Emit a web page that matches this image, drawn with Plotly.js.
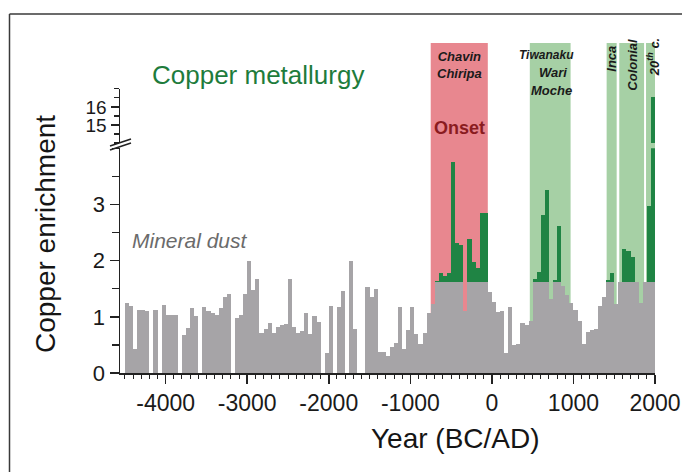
<!DOCTYPE html>
<html>
<head>
<meta charset="utf-8">
<script src="https://cdn.plot.ly/plotly-3.0.1.min.js"></script>
<style>
html,body{margin:0;padding:0;background:#fff;}
#chart{width:682px;height:472px;}
</style>
</head>
<body>
<div id="chart"></div>
<script>
// ---- data (50-year bins, centre year) ----
var years = [
 -4475,-4425,-4375,-4325,-4275,-4225,-4175,-4125,-4075,-4025,
 -3975,-3925,-3875,-3825,-3775,-3725,-3675,-3625,-3575,-3525,
 -3475,-3425,-3375,-3325,-3275,-3225,-3175,-3125,-3075,-3025,
 -2975,-2925,-2875,-2825,-2775,-2725,-2675,-2625,-2575,-2525,
 -2475,-2425,-2375,-2325,-2275,-2225,-2175,-2125,-2075,-2025,
 -1975,-1925,-1875,-1825,-1775,-1725,-1675,-1625,-1575,-1525,
 -1475,-1425,-1375,-1325,-1275,-1225,-1175,-1125,-1075,-1025,
 -975,-925,-875,-825,-775,-725,-675,-625,-575,-525,
 -475,-425,-375,-325,-275,-225,-175,-125,-75,-25,
 25,75,125,175,225,275,325,375,425,475,
 525,575,625,675,725,775,825,875,925,975,
 1025,1075,1125,1175,1225,1275,1325,1375,1425,1475,
 1525,1575,1625,1675,1725,1775,1825,1875,1925,1975
];
var mineralDust = [
 1.25,1.19,0.42,1.13,1.13,1.10,0,1.12,0,1.21,
 1.03,1.03,1.04,0,0.67,0.80,1.15,1.01,0,1.17,
 1.10,1.07,1.03,1.16,1.35,1.41,0,0.98,1.03,1.41,
 2.00,1.47,1.67,0.72,0.79,0.89,0.72,0.82,0.85,0.88,
 1.68,0.82,0.72,0.74,1.06,0.69,1.01,0.90,0,0.36,
 1.20,0,1.17,1.46,0,2.00,0.79,0,0,1.53,
 1.36,1.49,0.37,0.37,0.31,0.47,0.54,1.17,0.43,0.77,
 1.17,0.70,0.52,0.71,1.06,1.22,1.62,1.62,1.62,1.62,
 1.62,1.62,1.62,1.10,1.62,1.62,1.62,1.62,1.62,1.44,
 1.26,1.08,1.10,0.36,1.18,0.49,0.52,0.89,0.86,0.93,
 1.62,1.62,1.62,1.62,1.32,1.62,1.62,1.55,1.38,1.25,
 1.12,0.92,0.52,0.73,0.76,0.79,1.20,1.35,1.62,1.62,
 1.23,1.62,1.62,1.62,1.62,1.62,1.24,1.62,1.62,1.62
];
var copperYears = [-675,-625,-575,-525,-475,-425,-375,-275,-225,-175,-125,-75,
                   525,575,625,675,775,825,
                   1425,1475,1625,1675,1725,1925,1975];
var copperValues = [1.64,1.78,1.73,1.78,3.75,2.31,2.27,2.39,1.98,1.87,2.85,2.85,
                    1.68,1.79,2.82,3.25,1.65,2.62,
                    1.65,1.78,2.21,2.18,2.07,2.97,16.55];
var periodStart = [-750, 465, 1407, 1562, 1890];
var periodEnd   = [-50, 965, 1530, 1866, 2040];
var periodColor = ['#e8878f', '#a6d0a5', '#a6d0a5', '#a6d0a5', '#a6d0a5'];
var xTickVals = [-4000,-3000,-2000,-1000,0,1000,2000];
var xTickText = ['-4000','-3000','-2000','-1000','0','1000','2000'];
var yLowTicks = [0,1,2,3];
var yHighTicks = [15,16];

// ---- pixel helpers for decorations (paper coords) ----
var ML = 120, MR = 27, MT = 43, MB = 99, W = 682, H = 472;
var PW = W - ML - MR, PH = H - MT - MB;
function px(x){ return (x - ML) / PW; }
function py(y){ return (H - MB - y) / PH; }

var FONT = 'Liberation Sans, Arial, sans-serif';
var GREEN = '#1f8444';

var traces = [
  {type:'bar', x:copperYears, y:copperValues, width:50, xaxis:'x', yaxis:'y',
   marker:{color:GREEN, line:{width:0}}, hoverinfo:'skip', showlegend:false},
  {type:'bar', x:years, y:mineralDust, width:50, xaxis:'x', yaxis:'y',
   marker:{color:'#a6a4a7', line:{width:0}}, hoverinfo:'skip', showlegend:false},
  {type:'bar', x:copperYears, y:copperValues, width:50, xaxis:'x', yaxis:'y2',
   marker:{color:GREEN, line:{width:0}}, hoverinfo:'skip', showlegend:false}
];

var shapes = [];
for (var i = 0; i < periodStart.length; i++) {
  shapes.push({type:'rect', xref:'x', yref:'paper', x0:periodStart[i], x1:periodEnd[i],
    y0:0, y1:1, fillcolor:periodColor[i], line:{width:0}, layer:'below'});
}
// frame
shapes.push({type:'line', xref:'paper', yref:'paper', x0:px(9.5), x1:px(9.5), y0:py(14), y1:py(480),
  line:{color:'#3a3a3a', width:1.5}});
shapes.push({type:'line', xref:'paper', yref:'paper', x0:px(9.5), x1:px(690), y0:py(14), y1:py(14),
  line:{color:'#3a3a3a', width:1.5}});
// axis break marks
shapes.push({type:'line', xref:'paper', yref:'paper', x0:px(110), x1:px(131), y0:py(150), y1:py(143),
  line:{color:'#222', width:1.5}});
shapes.push({type:'line', xref:'paper', yref:'paper', x0:px(110), x1:px(131), y0:py(146), y1:py(139),
  line:{color:'#222', width:1.5}});

var periodLabelFont = {family:FONT, size:13, color:'#1a1a1a'};
var annotations = [
  {xref:'paper', yref:'paper', x:px(150), y:py(75), xanchor:'left', yanchor:'middle',
   text:'Copper metallurgy', showarrow:false, font:{family:FONT, size:26, color:'#1e7c3c'}},
  {xref:'paper', yref:'paper', x:px(130), y:py(240), xanchor:'left', yanchor:'middle',
   text:'<i>Mineral dust</i>', showarrow:false, font:{family:FONT, size:21, color:'#6b6b6b'}},
  {xref:'x', yref:'paper', x:-400, y:py(128), xanchor:'center', yanchor:'middle',
   text:'<b>Onset</b>', showarrow:false, font:{family:FONT, size:18, color:'#8a1c1f'}},
  {xref:'x', yref:'paper', x:-400, y:py(65), xanchor:'center', yanchor:'middle',
   text:'<b><i>Chavin<br>Chiripa</i></b>', showarrow:false, font:periodLabelFont},
  {xref:'x', yref:'paper', x:675, y:py(55), xanchor:'center', yanchor:'middle',
   text:'<b><i>Tiwanaku</i></b>', showarrow:false, font:{family:FONT, size:12, color:'#1a1a1a'}},
  {xref:'x', yref:'paper', x:745, y:py(72), xanchor:'center', yanchor:'middle',
   text:'<b><i>Wari</i></b>', showarrow:false, font:periodLabelFont},
  {xref:'x', yref:'paper', x:733, y:py(90), xanchor:'center', yanchor:'middle',
   text:'<b><i>Moche</i></b>', showarrow:false, font:periodLabelFont},
  {xref:'x', yref:'paper', x:1469, y:py(59), xanchor:'center', yanchor:'middle', textangle:-90,
   text:'<b><i>Inca</i></b>', showarrow:false, font:periodLabelFont},
  {xref:'x', yref:'paper', x:1714, y:py(65), xanchor:'center', yanchor:'middle', textangle:-90,
   text:'<b><i>Colonial</i></b>', showarrow:false, font:periodLabelFont},
  {xref:'x', yref:'paper', x:1979, y:py(57), xanchor:'center', yanchor:'middle', textangle:-90,
   text:'<b><i>20<sup>th</sup> c.</i></b>', showarrow:false, font:periodLabelFont},
  {xref:'paper', yref:'paper', x:px(45), y:py(234), xanchor:'center', yanchor:'middle', textangle:-90,
   text:'Copper enrichment', showarrow:false, font:{family:FONT, size:28, color:'#151515'}},
  {xref:'paper', yref:'paper', x:px(455), y:py(438), xanchor:'center', yanchor:'middle',
   text:'Year (BC/AD)', showarrow:false, font:{family:FONT, size:28, color:'#151515'}}
];

var axisCommon = {showline:true, linecolor:'#222', linewidth:1.5, ticks:'outside', tickcolor:'#222',
  tickwidth:1.5, showgrid:false, zeroline:false, fixedrange:true};

var layout = {
  width:W, height:H,
  margin:{l:ML, r:MR, t:MT, b:MB, pad:0},
  paper_bgcolor:'#ffffff', plot_bgcolor:'rgba(0,0,0,0)',
  barmode:'overlay', bargap:0,
  showlegend:false,
  font:{family:FONT, color:'#1a1a1a'},
  xaxis:Object.assign({}, axisCommon, {
    range:[-4560, 2000], anchor:'y', tickmode:'array', tickvals:xTickVals, ticktext:xTickText,
    ticklen:9, tickfont:{family:FONT, size:23, color:'#1a1a1a'},
    minor:{tickmode:'linear', tick0:0, dtick:100, ticklen:4, tickwidth:1, tickcolor:'#222', ticks:'outside', showgrid:false}
  }),
  yaxis:Object.assign({}, axisCommon, {
    domain:[0, 0.681], range:[0, 4.0], anchor:'x', tickmode:'array', tickvals:yLowTicks,
    ticktext:yLowTicks.map(String), ticklen:9, tickfont:{family:FONT, size:22, color:'#1a1a1a'},
    minor:{tickmode:'linear', tick0:0, dtick:0.5, ticklen:7, tickwidth:1.2, tickcolor:'#222', ticks:'outside', showgrid:false}
  }),
  yaxis2:Object.assign({}, axisCommon, {
    domain:[0.697, 0.861], range:[14, 17], anchor:'x', tickmode:'array', tickvals:yHighTicks,
    ticktext:yHighTicks.map(String), ticklen:8, tickfont:{family:FONT, size:19, color:'#1a1a1a'},
    minor:{tickmode:'linear', tick0:0, dtick:0.5, ticklen:5, tickwidth:1.2, tickcolor:'#222', ticks:'outside', showgrid:false}
  }),
  shapes:shapes,
  annotations:annotations
};

Plotly.newPlot('chart', traces, layout, {staticPlot:true, displayModeBar:false});
</script>
</body>
</html>
